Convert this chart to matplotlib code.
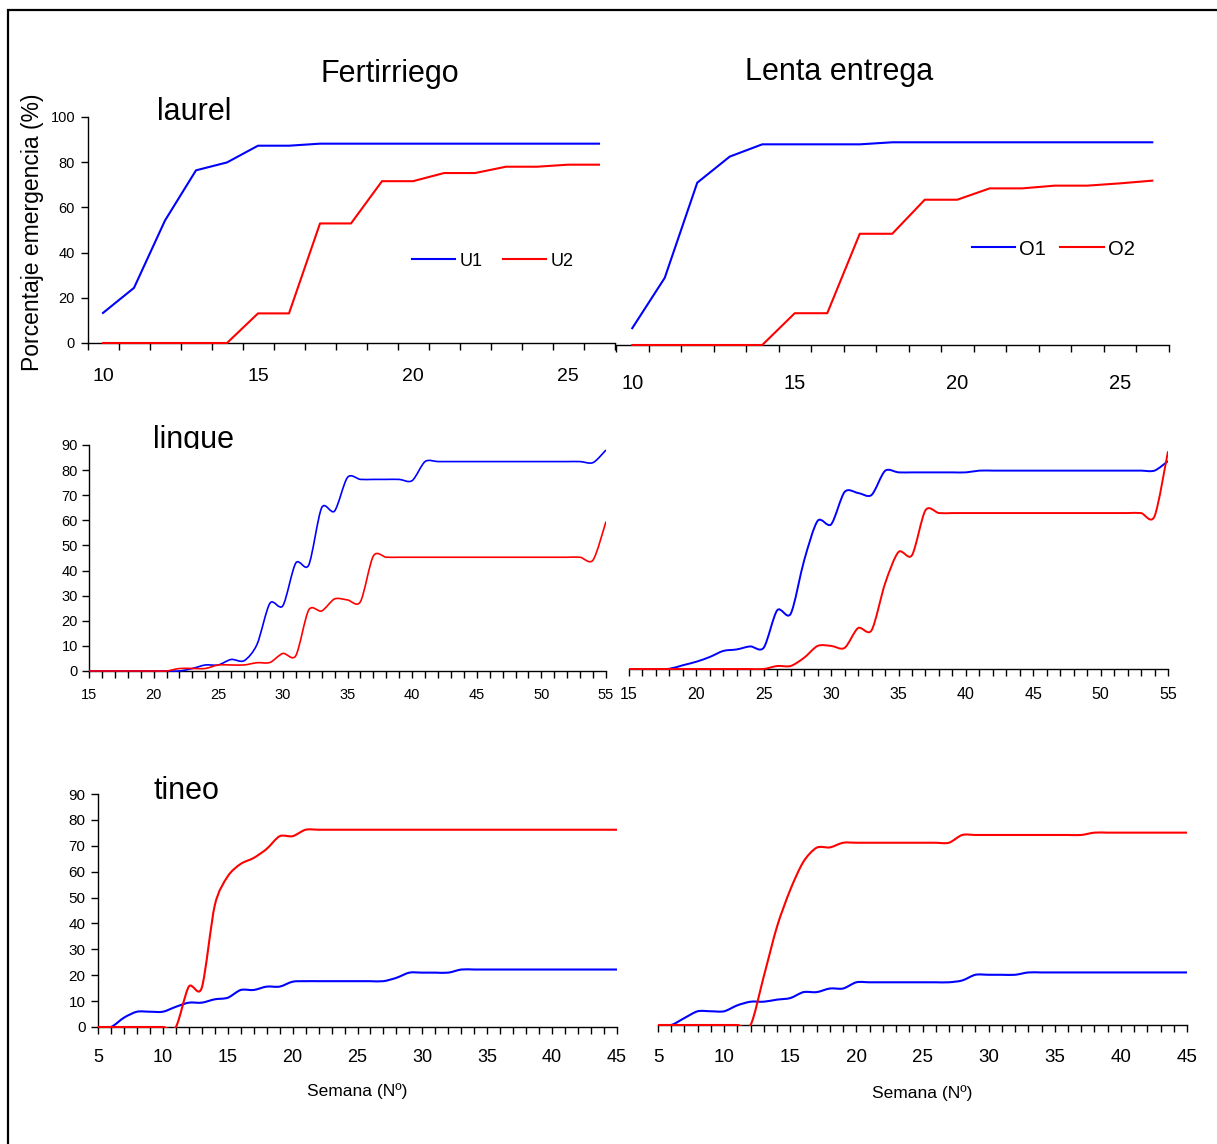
import matplotlib
matplotlib.use('Agg')
import matplotlib.pyplot as plt
import numpy as np
from matplotlib.path import Path
from matplotlib.patches import PathPatch, Rectangle
from matplotlib.transforms import Bbox, TransformedBbox
from matplotlib import font_manager as fm
from matplotlib.ticker import MultipleLocator, FixedLocator

W, H = 1217, 1144

# ---- data ----
laurel_weeks = list(range(10, 27))
laurel_u1 = [13.3, 24.4, 54.2, 76.4, 79.9, 87.3, 87.3, 88.2, 88.2, 88.2, 88.2, 88.2, 88.2, 88.2, 88.2, 88.2, 88.2]
laurel_u2 = [0, 0, 0, 0, 0, 13.1, 13.1, 52.9, 52.9, 71.6, 71.6, 75.2, 75.2, 78.0, 78.0, 78.9, 78.9]
laurel_o1 = [7.4, 29.6, 71.5, 83.0, 88.4, 88.4, 88.4, 88.4, 89.3, 89.3, 89.3, 89.3, 89.3, 89.3, 89.3, 89.3, 89.3]
laurel_o2 = [0, 0, 0, 0, 0, 14.0, 14.0, 49.0, 49.0, 64.0, 64.0, 69.0, 69.0, 70.2, 70.2, 71.2, 72.4]

lingue_weeks = list(range(15, 56))
lingue_u1 = [0, 0, 0, 0, 0, 0, 0,
             0, 1.0, 2.4, 2.4, 4.6, 4.1, 10.6, 27.0, 26.0, 43.0, 42.2, 65.0, 63.7, 77.1, 76.3,
             76.3, 76.3, 76.3, 75.8, 83.4,
             83.4, 83.4, 83.4, 83.4, 83.4, 83.4, 83.4, 83.4, 83.4, 83.4, 83.4, 83.4,
             83.0, 88.0]
lingue_u2 = [0, 0, 0, 0, 0, 0, 0,
             1.0, 1.0, 1.0, 2.4, 2.4, 2.4, 3.3, 3.4, 7.0, 6.1, 24.3, 23.9, 28.7, 28.3, 27.6, 45.8, 45.3,
             45.3, 45.3, 45.3, 45.3, 45.3, 45.3, 45.3, 45.3, 45.3, 45.3, 45.3, 45.3, 45.3, 45.3, 45.3,
             44.2, 59.5]
lingue_o1 = [0, 0, 0,
             0.1, 1.5, 2.9, 4.8, 7.2, 7.8, 9.0, 8.5, 23.4, 22.0, 43.3, 59.0, 57.6, 70.5, 70.1, 69.3, 78.9, 78.3,
             78.3, 78.3, 78.3, 78.3, 78.3,
             79.0, 79.0, 79.0, 79.0, 79.0, 79.0, 79.0, 79.0, 79.0, 79.0, 79.0, 79.0, 79.0, 79.0,
             82.8]
lingue_o2 = [0, 0, 0, 0, 0, 0, 0, 0, 0, 0, 0,
             1.2, 1.2, 4.5, 9.2, 9.2, 8.4, 16.3, 15.4, 34.0, 46.6, 45.3, 63.2,
             62.1, 62.1, 62.1, 62.1, 62.1, 62.1, 62.1, 62.1, 62.1, 62.1, 62.1, 62.1, 62.1, 62.1, 62.1, 62.1,
             60.8, 86.7]

tineo_weeks = list(range(5, 46))
tineo_u1 = [0, 0, 3.6, 5.9, 5.9, 5.9, 7.8, 9.4, 9.4, 10.7, 11.3, 14.3, 14.3, 15.6, 15.6, 17.5,
            17.7, 17.7, 17.7, 17.7, 17.7, 17.7, 17.7,
            19.0, 21.0, 21.0, 21.0, 21.0,
            22.2, 22.2, 22.2, 22.2, 22.2, 22.2, 22.2, 22.2, 22.2, 22.2, 22.2, 22.2, 22.2]
tineo_u2 = [0, 0, 0, 0, 0, 0, 0,
            15.6, 15.2, 47.0, 58.2, 63.0, 65.3, 68.8, 73.7, 73.7,
            76.2, 76.2, 76.2, 76.2, 76.2, 76.2, 76.2, 76.2, 76.2, 76.2, 76.2, 76.2, 76.2,
            76.2, 76.2, 76.2, 76.2, 76.2, 76.2, 76.2, 76.2, 76.2, 76.2, 76.2, 76.2]
tineo_o1 = [0, 0, 2.7, 5.3, 5.3, 5.3, 7.6, 9.0, 9.0, 9.8, 10.4, 12.7, 12.7, 14.1, 14.1,
            16.5, 16.5, 16.5, 16.5, 16.5, 16.5, 16.5, 16.5,
            17.2, 19.4, 19.4, 19.4, 19.4,
            20.3, 20.3, 20.3, 20.3, 20.3, 20.3, 20.3, 20.3, 20.3, 20.3, 20.3, 20.3, 20.3]
tineo_o2 = [0, 0, 0, 0, 0, 0, 0, 0,
            18.8, 38.0, 52.2, 63.1, 68.5, 68.6,
            70.4, 70.4, 70.4, 70.4, 70.4, 70.4, 70.4, 70.4, 70.4,
            73.4, 73.4, 73.4, 73.4, 73.4, 73.4, 73.4, 73.4, 73.4, 73.4,
            74.3, 74.3, 74.3, 74.3, 74.3, 74.3, 74.3, 74.3]

BLUE = '#0000ff'
RED = '#ff0000'

names = {f.name for f in fm.fontManager.ttflist}
REG = 'Liberation Sans' if 'Liberation Sans' in names else 'DejaVu Sans'
plt.rcParams['font.family'] = REG

fig = plt.figure(figsize=(W / 100, H / 100), dpi=100)

# frame around the figure
fig.patches.append(Rectangle((8 / W, -0.01), 1.02, 1 - 10 / H + 0.01, transform=fig.transFigure,
                             fill=False, edgecolor='black', linewidth=1.6))


def panel(l, r, t, b, xlim, ylim, left=True):
    ax = fig.add_axes([l / W, 1 - b / H, (r - l) / W, (b - t) / H])
    ax.set_xlim(*xlim)
    ax.set_ylim(*ylim)
    ax.patch.set_alpha(0)
    for s in ['top', 'right']:
        ax.spines[s].set_visible(False)
    for s in ax.spines.values():
        s.set_linewidth(1.0)
    if not left:
        ax.spines['left'].set_visible(False)
        ax.set_yticks([])
    return ax


def smooth(ax, x, y, color, lw, k=7.0):
    # excel-like smoothed line (catmull-rom style cubic bezier)
    p = np.column_stack([x, y]).astype(float)
    pe = np.vstack([p[0], p, p[-1]])
    verts = [p[0]]
    codes = [Path.MOVETO]
    for i in range(len(p) - 1):
        c1 = pe[i + 1] + (pe[i + 2] - pe[i]) / k
        c2 = pe[i + 2] - (pe[i + 3] - pe[i + 1]) / k
        verts += [c1, c2, pe[i + 2]]
        codes += [Path.CURVE4] * 3
    patch = PathPatch(Path(verts, codes), facecolor='none', edgecolor=color, lw=lw, zorder=3)
    ax.add_patch(patch)
    x0, x1 = ax.get_xlim()
    y0, y1 = ax.get_ylim()
    patch.set_clip_box(TransformedBbox(Bbox.from_extents(x0, y0 - 0.4, x1, y1 + 5), ax.transData))


tick_kw = dict(direction='out', length=5, width=1.0, color='black')

# ---- laurel, Fertirriego ----
ax1 = panel(87.5, 614.5, 117, 343, (9.5, 26.5), (0, 100))
ax1.plot(laurel_weeks, laurel_u1, color=BLUE, lw=1.5, label='U1', zorder=3, clip_on=False)
ax1.plot(laurel_weeks, laurel_u2, color=RED, lw=1.5, label='U2', zorder=3, clip_on=False)
ax1.xaxis.set_major_locator(FixedLocator([10, 15, 20, 25]))
ax1.xaxis.set_minor_locator(FixedLocator(np.arange(9.5, 27, 1)))
ax1.tick_params(axis='x', which='major', length=0, pad=18, labelsize=14)
ax1.tick_params(axis='x', which='minor', **tick_kw)
ax1.yaxis.set_major_locator(MultipleLocator(20))
ax1.tick_params(axis='y', pad=4, labelsize=10.5, **tick_kw)
ax1.legend(loc='center left', bbox_to_anchor=(412 / W, 1 - 261 / H), bbox_transform=fig.transFigure,
           ncol=2, frameon=False, borderpad=0, borderaxespad=0, handlelength=2.4,
           handletextpad=0.25, columnspacing=1.1, prop=dict(size=13))

# ---- laurel, Lenta entrega ----
ax2 = panel(616, 1168.5, 118, 345, (9.5, 26.5), (0, 100), left=False)
ax2.plot(laurel_weeks, laurel_o1, color=BLUE, lw=1.5, label='O1', zorder=3, clip_on=False)
ax2.plot(laurel_weeks, laurel_o2, color=RED, lw=1.5, label='O2', zorder=3, clip_on=False)
ax2.xaxis.set_major_locator(FixedLocator([10, 15, 20, 25]))
ax2.xaxis.set_minor_locator(FixedLocator(np.arange(9.5, 27, 1)))
ax2.tick_params(axis='x', which='major', length=0, pad=21, labelsize=14.5)
ax2.tick_params(axis='x', which='minor', **tick_kw)
ax2.legend(loc='center left', bbox_to_anchor=(972 / W, 1 - 249 / H), bbox_transform=fig.transFigure,
           ncol=2, frameon=False, borderpad=0, borderaxespad=0, handlelength=2.15,
           handletextpad=0.2, columnspacing=0.7, prop=dict(size=14.5))

# ---- lingue ----
ax3 = panel(89, 606, 445, 671, (15, 55), (0, 90))
smooth(ax3, lingue_weeks, lingue_u1, BLUE, 1.2)
smooth(ax3, lingue_weeks, lingue_u2, RED, 1.2)
ax3.xaxis.set_major_locator(MultipleLocator(5))
ax3.xaxis.set_minor_locator(MultipleLocator(1))
ax3.yaxis.set_major_locator(MultipleLocator(10))
ax3.tick_params(axis='x', which='both', pad=7, labelsize=10.5, **tick_kw)
ax3.tick_params(axis='y', pad=3, labelsize=10.5, **tick_kw)

ax4 = panel(629, 1168, 443, 669, (15, 55), (0, 90), left=False)
smooth(ax4, lingue_weeks, lingue_o1, BLUE, 1.4)
smooth(ax4, lingue_weeks, lingue_o2, RED, 1.4)
ax4.xaxis.set_major_locator(MultipleLocator(5))
ax4.xaxis.set_minor_locator(MultipleLocator(1))
ax4.tick_params(axis='x', which='both', pad=8, labelsize=11.5, **tick_kw)

# ---- tineo ----
ax5 = panel(98, 617, 794, 1027, (5, 45), (0, 90))
smooth(ax5, tineo_weeks, tineo_u1, BLUE, 1.5)
smooth(ax5, tineo_weeks, tineo_u2, RED, 1.5)
ax5.xaxis.set_major_locator(MultipleLocator(5))
ax5.xaxis.set_minor_locator(MultipleLocator(1))
ax5.yaxis.set_major_locator(MultipleLocator(10))
ax5.tick_params(axis='x', which='both', pad=11, labelsize=13, **tick_kw)
ax5.tick_params(axis='y', pad=4, labelsize=11, **tick_kw)
ax5.set_xlabel('Semana (Nº)', fontsize=12.5, labelpad=12)

ax6 = panel(658, 1187, 792, 1025, (5, 45), (0, 90), left=False)
smooth(ax6, tineo_weeks, tineo_o1, BLUE, 1.5)
smooth(ax6, tineo_weeks, tineo_o2, RED, 1.5)
ax6.xaxis.set_major_locator(MultipleLocator(5))
ax6.xaxis.set_minor_locator(MultipleLocator(1))
ax6.tick_params(axis='x', which='both', pad=12, labelsize=13.5, **tick_kw)
ax6.set_xlabel('Semana (Nº)', fontsize=12.5, labelpad=14)

# ---- titles and labels ----
fig.text(390 / W, 1 - 82 / H, 'Fertirriego', ha='center', va='baseline', fontsize=22)
fig.text(839 / W, 1 - 80 / H, 'Lenta entrega', ha='center', va='baseline', fontsize=22)
fig.text(157 / W, 1 - 120 / H, 'laurel', ha='left', va='baseline', fontsize=22)
t = fig.text(153 / W, 1 - 448 / H, 'lingue', ha='left', va='baseline', fontsize=22)
t.set_clip_box(TransformedBbox(Bbox.from_extents(0, 1 - 449 / H, 1, 1), fig.transFigure))
t.set_clip_on(True)
fig.text(154 / W, 1 - 799 / H, 'tineo', ha='left', va='baseline', fontsize=22)
fig.text(33 / W, 1 - 232 / H, 'Porcentaje emergencia (%)', rotation=90, ha='center', va='center',
         fontsize=16.5)

fig.savefig('out.png', dpi=100)
